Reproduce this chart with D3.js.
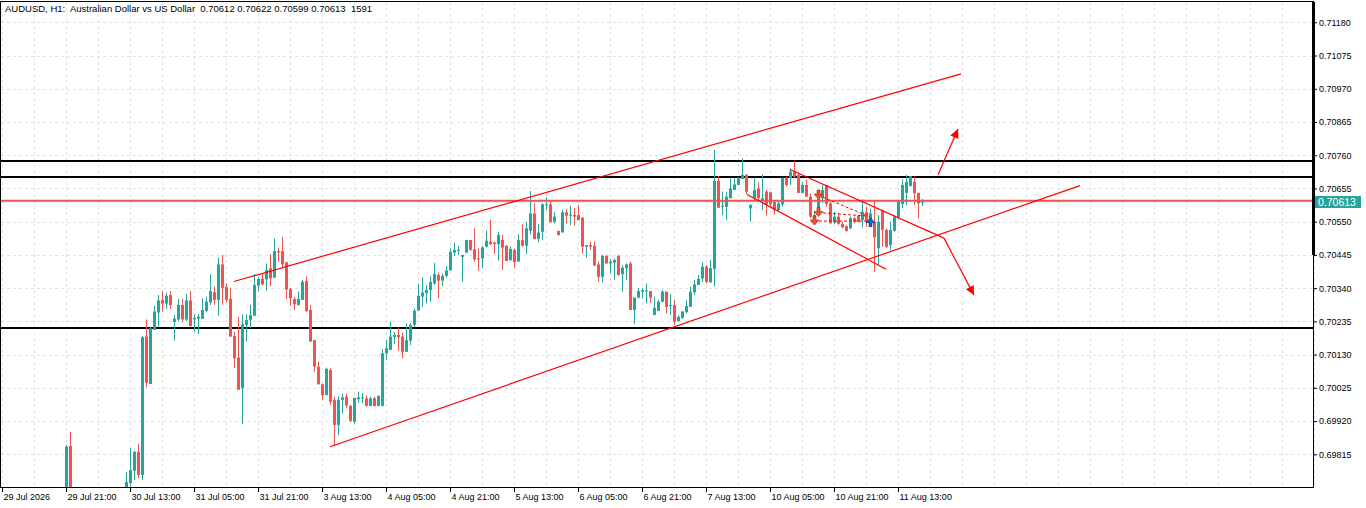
<!DOCTYPE html>
<html>
<head>
<meta charset="utf-8">
<script src="https://cdn.jsdelivr.net/npm/d3@7"></script>
<style>
  body { margin: 0; background: #fff; }
  svg { display: block; font-family: "Liberation Sans", Arial, sans-serif; }
</style>
</head>
<body>
<svg id="chart" width="1366" height="508"></svg>
<script>
var titleText = 'AUDUSD, H1:  Australian Dollar vs US Dollar  0.70612 0.70622 0.70599 0.70613  1591';

// bar index of the first entry below; bars 18-30 sit under the visible range
var firstIndex = 16;

var opens = [
  0.69690, 0.69841,
  null, null, null, null, null, null, null, null, null, null, null, null, null,
  0.69702, 0.69724, 0.69763, 0.69823, 0.69750, 0.70187, 0.70037, 0.70208, 0.70263, 0.70303,
  0.70291, 0.70318, 0.70233, 0.70241, 0.70287, 0.70241, 0.70301, 0.70241, 0.70244, 0.70243,
  0.70268, 0.70295, 0.70327, 0.70303, 0.70415, 0.70343, 0.70306, 0.70189, 0.70121, 0.70024,
  0.70224, 0.70239, 0.70253, 0.70348, 0.70369, 0.70368, 0.70403, 0.70373, 0.70457, 0.70457,
  0.70422, 0.70337, 0.70306, 0.70287, 0.70303, 0.70363, 0.70271, 0.70176, 0.70092, 0.70036,
  0.70002, 0.70081, 0.69987, 0.69908, 0.69987, 0.69997, 0.69968, 0.69918, 0.69989, 0.69992,
  0.69992, 0.69968, 0.69992, 0.69968, 0.69968, 0.70134, 0.70145, 0.70185, 0.70192, 0.70187,
  0.70139, 0.70174, 0.70224, 0.70269, 0.70313, 0.70324, 0.70334, 0.70355, 0.70382, 0.70364,
  0.70379, 0.70396, 0.70452, 0.70458, 0.70439, 0.70452, 0.70492, 0.70463, 0.70434, 0.70434,
  0.70471, 0.70487, 0.70484, 0.70479, 0.70492, 0.70474, 0.70429, 0.70461, 0.70424, 0.70492,
  0.70474, 0.70521, 0.70576, 0.70495, 0.70518, 0.70603, 0.70605, 0.70550, 0.70521, 0.70516,
  0.70580, 0.70569, 0.70571, 0.70571, 0.70563, 0.70471, 0.70476, 0.70474, 0.70415, 0.70376,
  0.70442, 0.70418, 0.70421, 0.70442, 0.70384, 0.70403, 0.70418, 0.70271, 0.70310, 0.70329,
  0.70331, 0.70331, 0.70255, 0.70268, 0.70297, 0.70329, 0.70284, 0.70287, 0.70236, 0.70246,
  0.70264, 0.70281, 0.70327, 0.70350, 0.70371, 0.70408, 0.70358, 0.70401, 0.70679, 0.70597,
  0.70597, 0.70624, 0.70650, 0.70666, 0.70685, 0.70698, 0.70592, 0.70624, 0.70655, 0.70619,
  0.70645, 0.70643, 0.70613, 0.70587, 0.70605, 0.70689, 0.70687, 0.70708, 0.70698, 0.70641,
  0.70666, 0.70629, 0.70566, 0.70592, 0.70624, 0.70666, 0.70608, 0.70547, 0.70566, 0.70543,
  0.70536, 0.70529, 0.70561, 0.70568, 0.70555, 0.70581, 0.70550, 0.70550, 0.70466, 0.70585,
  0.70524, 0.70476, 0.70521, 0.70564, 0.70606, 0.70641, 0.70663, 0.70676, 0.70641, 0.70612
];
var highs = [
  0.69844, 0.69886,
  null, null, null, null, null, null, null, null, null, null, null, null, null,
  0.69760, 0.69835, 0.69826, 0.69847, 0.70189, 0.70241, 0.70218, 0.70284, 0.70318, 0.70331,
  0.70326, 0.70331, 0.70255, 0.70306, 0.70306, 0.70322, 0.70331, 0.70258, 0.70258, 0.70308,
  0.70313, 0.70384, 0.70345, 0.70437, 0.70445, 0.70355, 0.70339, 0.70202, 0.70249, 0.70257,
  0.70257, 0.70287, 0.70384, 0.70376, 0.70385, 0.70418, 0.70447, 0.70497, 0.70468, 0.70502,
  0.70422, 0.70341, 0.70313, 0.70329, 0.70366, 0.70377, 0.70287, 0.70176, 0.70108, 0.70039,
  0.70089, 0.70087, 0.69997, 0.69998, 0.70006, 0.70006, 0.69971, 0.69994, 0.70013, 0.70008,
  0.70000, 0.69997, 0.69997, 0.70000, 0.70147, 0.70176, 0.70234, 0.70202, 0.70216, 0.70199,
  0.70229, 0.70229, 0.70276, 0.70353, 0.70374, 0.70350, 0.70378, 0.70420, 0.70389, 0.70387,
  0.70410, 0.70466, 0.70484, 0.70473, 0.70445, 0.70492, 0.70492, 0.70529, 0.70466, 0.70473,
  0.70521, 0.70557, 0.70487, 0.70518, 0.70508, 0.70476, 0.70471, 0.70464, 0.70510, 0.70542,
  0.70550, 0.70647, 0.70608, 0.70542, 0.70608, 0.70626, 0.70615, 0.70580, 0.70521, 0.70587,
  0.70590, 0.70600, 0.70594, 0.70603, 0.70563, 0.70476, 0.70487, 0.70487, 0.70424, 0.70445,
  0.70445, 0.70432, 0.70432, 0.70445, 0.70413, 0.70418, 0.70424, 0.70310, 0.70340, 0.70340,
  0.70355, 0.70331, 0.70313, 0.70303, 0.70334, 0.70329, 0.70321, 0.70303, 0.70255, 0.70268,
  0.70303, 0.70345, 0.70366, 0.70382, 0.70422, 0.70413, 0.70429, 0.70777, 0.70695, 0.70645,
  0.70645, 0.70687, 0.70687, 0.70692, 0.70750, 0.70700, 0.70605, 0.70689, 0.70674, 0.70700,
  0.70650, 0.70645, 0.70615, 0.70615, 0.70689, 0.70692, 0.70719, 0.70742, 0.70705, 0.70676,
  0.70682, 0.70640, 0.70581, 0.70640, 0.70666, 0.70666, 0.70613, 0.70581, 0.70578, 0.70550,
  0.70540, 0.70566, 0.70566, 0.70571, 0.70621, 0.70597, 0.70592, 0.70616, 0.70571, 0.70585,
  0.70529, 0.70550, 0.70571, 0.70619, 0.70684, 0.70698, 0.70694, 0.70692, 0.70641, 0.70622
];
var lows = [
  0.69670, 0.69640,
  null, null, null, null, null, null, null, null, null, null, null, null, null,
  0.69690, 0.69702, 0.69734, 0.69740, 0.69734, 0.70027, 0.70037, 0.70208, 0.70218, 0.70266,
  0.70275, 0.70274, 0.70174, 0.70236, 0.70232, 0.70236, 0.70220, 0.70202, 0.70195, 0.70243,
  0.70263, 0.70287, 0.70287, 0.70253, 0.70287, 0.70295, 0.70187, 0.70088, 0.70019, 0.69911,
  0.70171, 0.70213, 0.70253, 0.70329, 0.70348, 0.70332, 0.70345, 0.70373, 0.70424, 0.70403,
  0.70306, 0.70284, 0.70271, 0.70284, 0.70303, 0.70264, 0.70171, 0.70076, 0.70036, 0.69987,
  0.70002, 0.69971, 0.69841, 0.69876, 0.69944, 0.69960, 0.69917, 0.69911, 0.69978, 0.69976,
  0.69966, 0.69968, 0.69966, 0.69966, 0.69966, 0.70113, 0.70145, 0.70163, 0.70142, 0.70118,
  0.70139, 0.70160, 0.70218, 0.70269, 0.70281, 0.70292, 0.70297, 0.70350, 0.70308, 0.70347,
  0.70374, 0.70396, 0.70441, 0.70445, 0.70360, 0.70452, 0.70458, 0.70424, 0.70395, 0.70403,
  0.70469, 0.70476, 0.70448, 0.70427, 0.70397, 0.70426, 0.70426, 0.70403, 0.70424, 0.70471,
  0.70447, 0.70510, 0.70495, 0.70485, 0.70492, 0.70587, 0.70548, 0.70545, 0.70506, 0.70516,
  0.70545, 0.70540, 0.70537, 0.70555, 0.70450, 0.70436, 0.70461, 0.70411, 0.70360, 0.70358,
  0.70418, 0.70387, 0.70366, 0.70379, 0.70329, 0.70366, 0.70271, 0.70226, 0.70308, 0.70308,
  0.70292, 0.70292, 0.70255, 0.70268, 0.70295, 0.70260, 0.70255, 0.70224, 0.70234, 0.70243,
  0.70260, 0.70281, 0.70318, 0.70350, 0.70360, 0.70355, 0.70358, 0.70345, 0.70594, 0.70571,
  0.70555, 0.70624, 0.70650, 0.70666, 0.70685, 0.70637, 0.70550, 0.70613, 0.70613, 0.70587,
  0.70569, 0.70597, 0.70571, 0.70581, 0.70597, 0.70661, 0.70666, 0.70689, 0.70640, 0.70640,
  0.70629, 0.70561, 0.70553, 0.70581, 0.70610, 0.70597, 0.70543, 0.70543, 0.70540, 0.70529,
  0.70518, 0.70526, 0.70545, 0.70547, 0.70532, 0.70534, 0.70534, 0.70392, 0.70413, 0.70471,
  0.70466, 0.70461, 0.70518, 0.70561, 0.70592, 0.70603, 0.70661, 0.70603, 0.70561, 0.70599
];
var closes = [
  0.69839, 0.69680,
  null, null, null, null, null, null, null, null, null, null, null, null, null,
  0.69728, 0.69765, 0.69823, 0.69750, 0.70185, 0.70041, 0.70213, 0.70266, 0.70301, 0.70291,
  0.70316, 0.70287, 0.70244, 0.70287, 0.70241, 0.70301, 0.70220, 0.70246, 0.70250, 0.70271,
  0.70297, 0.70331, 0.70303, 0.70415, 0.70341, 0.70303, 0.70187, 0.70118, 0.70019, 0.70226,
  0.70239, 0.70255, 0.70350, 0.70369, 0.70352, 0.70397, 0.70371, 0.70457, 0.70453, 0.70415,
  0.70336, 0.70308, 0.70289, 0.70306, 0.70360, 0.70268, 0.70171, 0.70092, 0.70036, 0.70002,
  0.70085, 0.69981, 0.69908, 0.69987, 0.69995, 0.69969, 0.69921, 0.69993, 0.69995, 0.69995,
  0.69968, 0.69992, 0.69968, 0.70000, 0.70134, 0.70150, 0.70187, 0.70192, 0.70185, 0.70139,
  0.70176, 0.70224, 0.70269, 0.70316, 0.70326, 0.70334, 0.70360, 0.70385, 0.70364, 0.70379,
  0.70396, 0.70455, 0.70461, 0.70461, 0.70445, 0.70492, 0.70461, 0.70431, 0.70432, 0.70469,
  0.70490, 0.70479, 0.70479, 0.70508, 0.70468, 0.70426, 0.70464, 0.70422, 0.70492, 0.70474,
  0.70529, 0.70576, 0.70495, 0.70516, 0.70605, 0.70605, 0.70548, 0.70566, 0.70508, 0.70580,
  0.70569, 0.70573, 0.70566, 0.70555, 0.70471, 0.70476, 0.70471, 0.70411, 0.70376, 0.70442,
  0.70418, 0.70424, 0.70429, 0.70382, 0.70405, 0.70415, 0.70271, 0.70310, 0.70331, 0.70334,
  0.70333, 0.70310, 0.70278, 0.70297, 0.70329, 0.70281, 0.70287, 0.70234, 0.70249, 0.70266,
  0.70284, 0.70329, 0.70352, 0.70369, 0.70408, 0.70360, 0.70403, 0.70679, 0.70594, 0.70600,
  0.70629, 0.70655, 0.70668, 0.70687, 0.70698, 0.70645, 0.70603, 0.70650, 0.70624, 0.70624,
  0.70605, 0.70605, 0.70587, 0.70608, 0.70689, 0.70666, 0.70708, 0.70692, 0.70641, 0.70666,
  0.70629, 0.70566, 0.70571, 0.70624, 0.70650, 0.70606, 0.70545, 0.70566, 0.70543, 0.70532,
  0.70521, 0.70561, 0.70550, 0.70550, 0.70581, 0.70550, 0.70576, 0.70501, 0.70550, 0.70524,
  0.70471, 0.70524, 0.70566, 0.70613, 0.70666, 0.70676, 0.70694, 0.70640, 0.70608, 0.70613
];

var priceTicks = ['0.71180', '0.71075', '0.70970', '0.70865', '0.70760', '0.70655', '0.70550',
  '0.70445', '0.70340', '0.70235', '0.70130', '0.70025', '0.69920', '0.69815'];

var timeLabels = ['29 Jul 2026', '29 Jul 21:00', '30 Jul 13:00', '31 Jul 05:00', '31 Jul 21:00',
  '3 Aug 13:00', '4 Aug 05:00', '4 Aug 21:00', '5 Aug 13:00', '6 Aug 05:00', '6 Aug 21:00',
  '7 Aug 13:00', '10 Aug 05:00', '10 Aug 21:00', '11 Aug 13:00'];
var timeLabelBars = [0, 16, 32, 48, 64, 80, 96, 112, 128, 144, 160, 176, 192, 208, 224];

// horizontal levels drawn by hand (black), ask and bid
var levelPrices = [0.70743, 0.70691, 0.70214];
var askPrice = 0.70616;
var bidPrice = 0.70613;

// trend lines: [bar, price] start and end
var trendStarts = [[58, 0.70361], [82, 0.69839], [197, 0.70715], [186.25, 0.70636]];
var trendEnds = [[239.75, 0.71017], [269.5, 0.70664], [235.5, 0.70498], [221, 0.70400]];
var arrowStarts = [[234, 0.70698], [235.5, 0.70498]];
var arrowEnds = [[239, 0.70843], [243, 0.70318]];

// trade history markers inside the flag
var tradeOpenBars = [204, 204, 203];
var tradeOpenPrices = [0.70634, 0.70579, 0.70552];
var tradeCloseBars = [217, 216, 217];
var tradeClosePrices = [0.70565, 0.70568, 0.70552];
var buyMarkBar = 217;
var buyMarkPrice = 0.70550;

var green = '#26a69a';
var red = '#ef5350';

var svg = d3.select('#chart');
var plotRight = 1313;
var plotBottom = 487;

var x = d3.scaleLinear().domain([0, 100]).range([2, 402]);
var y = d3.scaleLinear().domain([0.69815, 0.71180]).range([454.3, 22.3]);

svg.append('rect').attr('width', 1366).attr('height', 508).attr('fill', '#fff');

svg.append('defs').append('clipPath').attr('id', 'plot-clip')
  .append('rect').attr('x', 1).attr('y', 2).attr('width', plotRight - 1).attr('height', plotBottom - 2);

svg.select('defs').append('marker')
  .attr('id', 'head')
  .attr('viewBox', '0 0 10 10')
  .attr('refX', 10).attr('refY', 5)
  .attr('markerWidth', 10).attr('markerHeight', 9)
  .attr('markerUnits', 'userSpaceOnUse')
  .attr('orient', 'auto')
  .append('path').attr('d', 'M0,0L10,5L0,10Z').attr('fill', '#ff0000');

// grid
var gridLayer = svg.append('g').attr('class', 'grid-layer');
gridLayer.selectAll('.hgrid').data(priceTicks).enter().append('line')
  .classed('hgrid', true)
  .attr('x1', 1).attr('x2', plotRight)
  .attr('y1', function(d) { return Math.round(y(+d)) + 0.5; })
  .attr('y2', function(d) { return Math.round(y(+d)) + 0.5; })
  .attr('stroke', '#e2e2e2').attr('stroke-dasharray', '3,3');

var vgridBars = d3.range(0, 330, 8);
gridLayer.selectAll('.vgrid').data(vgridBars).enter().append('line')
  .classed('vgrid', true)
  .attr('x1', function(d) { return x(d) + 0.5; })
  .attr('x2', function(d) { return x(d) + 0.5; })
  .attr('y1', 2).attr('y2', plotBottom)
  .attr('stroke', '#e2e2e2').attr('stroke-dasharray', '3,3');

var plot = svg.append('g').attr('clip-path', 'url(#plot-clip)');

// hand drawn levels
plot.selectAll('.level-line').data(levelPrices).enter().append('line')
  .classed('level-line', true)
  .attr('x1', 0).attr('x2', plotRight)
  .attr('y1', function(d) { return Math.round(y(d)); })
  .attr('y2', function(d) { return Math.round(y(d)); })
  .attr('stroke', '#000').attr('stroke-width', 2);

// candles
var bars = opens.map(function(o, k) {
  return {i: firstIndex + k, o: o, h: highs[k], l: lows[k], c: closes[k]};
}).filter(function(b) { return b.o !== null; });

var candles = plot.selectAll('.candle').data(bars).enter().append('g').classed('candle', true);
candles.append('line')
  .attr('x1', function(b) { return Math.round(x(b.i)) + 0.5; })
  .attr('x2', function(b) { return Math.round(x(b.i)) + 0.5; })
  .attr('y1', function(b) { return y(b.h); })
  .attr('y2', function(b) { return y(b.l); })
  .attr('stroke', candleColor);
candles.append('rect')
  .attr('x', function(b) { return Math.round(x(b.i)) - 1; })
  .attr('width', 3)
  .attr('y', function(b) { return y(Math.max(b.o, b.c)); })
  .attr('height', function(b) { return Math.max(1, Math.abs(y(b.o) - y(b.c))); })
  .attr('fill', candleColor);

function candleColor(b) {
  return b.c >= b.o ? green : red;
}

// bid under, ask on top
var askY = Math.round(y(askPrice)) - 0.5;
plot.append('line')
  .attr('x1', 0).attr('x2', plotRight)
  .attr('y1', askY + 1.2).attr('y2', askY + 1.2)
  .attr('stroke', green).attr('stroke-width', 0.8);
plot.append('line')
  .attr('x1', 0).attr('x2', plotRight)
  .attr('y1', askY).attr('y2', askY)
  .attr('stroke', red).attr('stroke-width', 1.4);

// trend lines
var trends = trendStarts.map(function(s, k) { return [s, trendEnds[k]]; });
plot.selectAll('.trend-line').data(trends).enter().append('line')
  .classed('trend-line', true)
  .attr('x1', function(d) { return x(d[0][0]); })
  .attr('y1', function(d) { return y(d[0][1]); })
  .attr('x2', function(d) { return x(d[1][0]); })
  .attr('y2', function(d) { return y(d[1][1]); })
  .attr('stroke', '#ff0000').attr('stroke-width', 1.2);

var arrows = arrowStarts.map(function(s, k) { return [s, arrowEnds[k]]; });
plot.selectAll('.arrow-line').data(arrows).enter().append('line')
  .classed('arrow-line', true)
  .attr('x1', function(d) { return x(d[0][0]); })
  .attr('y1', function(d) { return y(d[0][1]); })
  .attr('x2', function(d) { return x(d[1][0]); })
  .attr('y2', function(d) { return y(d[1][1]); })
  .attr('stroke', '#ff0000').attr('stroke-width', 1.2)
  .attr('marker-end', 'url(#head)');

// trade markers
plot.selectAll('.trade-line').data(tradeOpenBars).enter().append('line')
  .classed('trade-line', true)
  .attr('x1', function(d) { return x(d); })
  .attr('y1', function(d, k) { return y(tradeOpenPrices[k]); })
  .attr('x2', function(d, k) { return x(tradeCloseBars[k]); })
  .attr('y2', function(d, k) { return y(tradeClosePrices[k]); })
  .attr('stroke', '#ff0000').attr('stroke-dasharray', '3,2');

plot.selectAll('.sell-mark').data(tradeOpenBars).enter().append('path')
  .classed('sell-mark', true)
  .attr('transform', function(d, k) { return 'translate(' + (x(d) + 0.5) + ',' + y(tradeOpenPrices[k]) + ')'; })
  .attr('d', 'M-1.5,-5H1.5V-1H4.5L0,4L-4.5,-1H-1.5Z')
  .attr('fill', '#e8542e').attr('stroke', '#a02010').attr('stroke-width', 0.6);

plot.append('path')
  .attr('transform', 'translate(' + (x(buyMarkBar) + 0.5) + ',' + y(buyMarkPrice) + ')')
  .attr('d', 'M-1.5,5H1.5V1H4.5L0,-4L-4.5,1H-1.5Z')
  .attr('fill', '#1464c8').attr('stroke', '#0a3a80').attr('stroke-width', 0.6);

// price axis
var priceAxis = d3.axisRight(y)
  .tickValues(priceTicks.map(Number))
  .tickFormat(d3.format('.5f'))
  .tickSize(4)
  .tickPadding(2);
var pa = svg.append('g').attr('transform', 'translate(' + plotRight + ',0)').call(priceAxis);
pa.select('.domain').remove();
pa.selectAll('text').attr('font-size', 9).attr('fill', '#000').attr('font-family', '"Liberation Sans", Arial, sans-serif');

// time axis
var timeAxis = d3.axisBottom(x)
  .tickValues(timeLabelBars)
  .tickFormat(function(d, k) { return timeLabels[k]; })
  .tickSize(5)
  .tickPadding(2);
var ta = svg.append('g').attr('transform', 'translate(0,' + plotBottom + ')').call(timeAxis);
ta.select('.domain').remove();
ta.selectAll('text')
  .attr('text-anchor', 'start').attr('x', 1)
  .attr('font-size', 9).attr('fill', '#000').attr('font-family', '"Liberation Sans", Arial, sans-serif');

// frame
svg.append('rect')
  .attr('x', 0.5).attr('y', 1.5)
  .attr('width', plotRight).attr('height', plotBottom - 1)
  .attr('fill', 'none').attr('stroke', '#000');
svg.append('rect')
  .attr('x', plotRight - 1).attr('y', 2).attr('width', 3).attr('height', 253)
  .attr('fill', '#000');

// bid label
var bidY = Math.round(y(bidPrice));
svg.append('rect')
  .attr('x', plotRight + 2).attr('y', bidY - 6).attr('width', 46).attr('height', 12)
  .attr('fill', green);
svg.append('text')
  .attr('x', plotRight + 5).attr('y', bidY + 4)
  .attr('font-size', 10.5).attr('fill', '#fff')
  .text(d3.format('.5f')(bidPrice));

// title
svg.append('text')
  .attr('x', 5).attr('y', 11.5)
  .attr('font-size', 9.5).attr('fill', '#000')
  .attr('xml:space', 'preserve')
  .style('white-space', 'pre')
  .text(titleText);
</script>
</body>
</html>
